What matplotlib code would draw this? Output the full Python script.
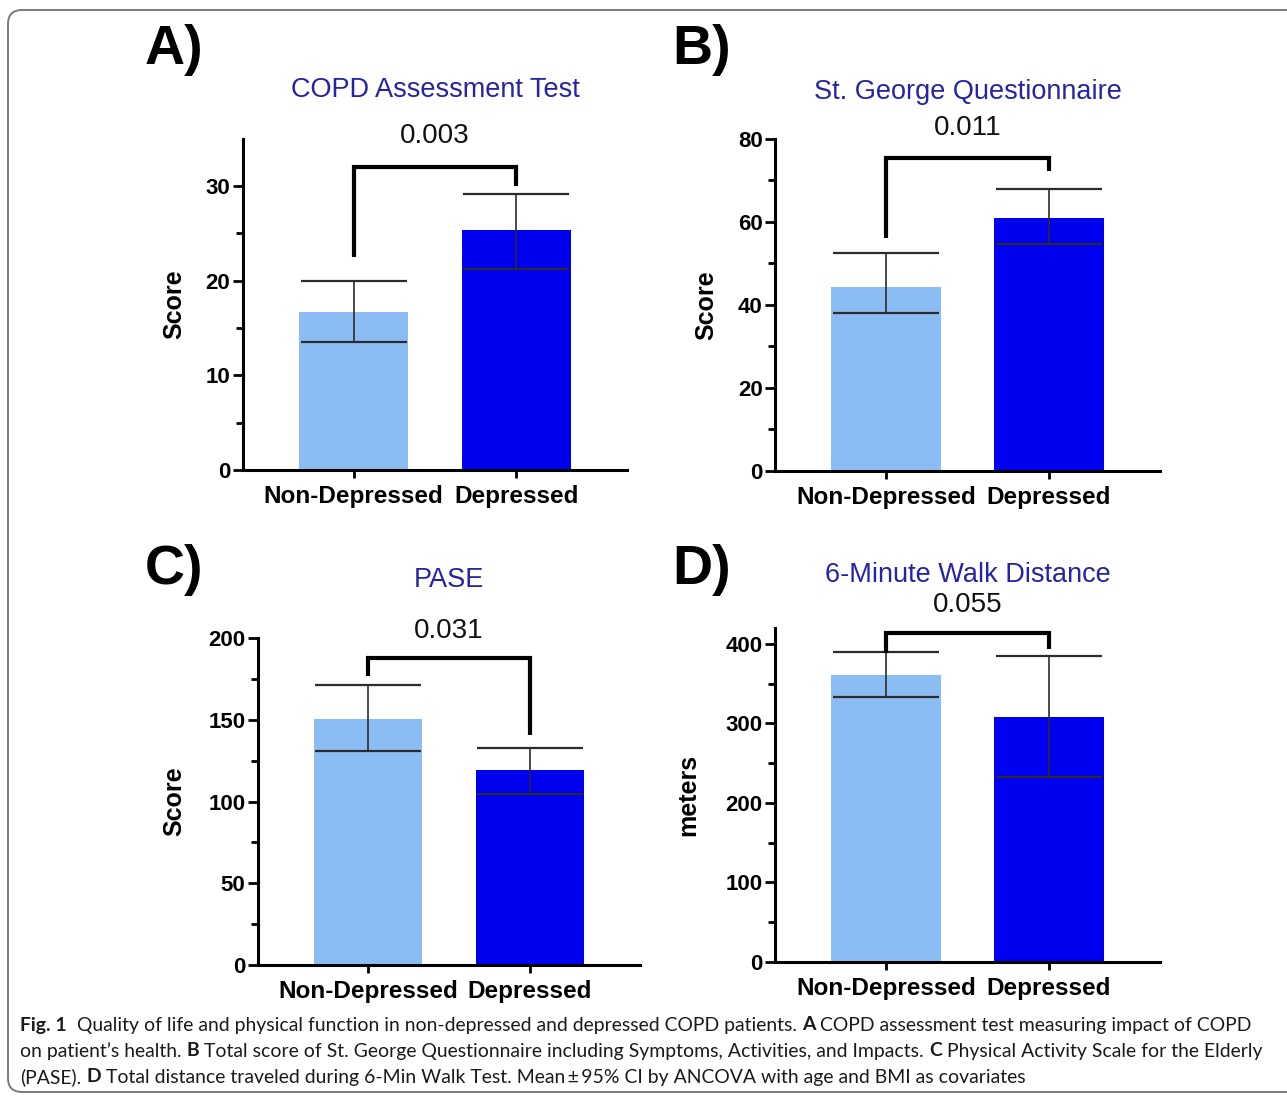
import matplotlib
matplotlib.use("Agg")
import numpy as np
import matplotlib.pyplot as plt
from matplotlib.patches import FancyBboxPatch

# ---------------- data ----------------
groups = ["Non-Depressed", "Depressed"]
titles = ["COPD Assessment Test", "St. George Questionnaire", "PASE", "6-Minute Walk Distance"]
panel_letters = ["A)", "B)", "C)", "D)"]
ylabels = ["Score", "Score", "Score", "meters"]
pvalues = ["0.003", "0.011", "0.031", "0.055"]

means_A = [16.7, 25.3]
ci_low_A = [13.5, 21.2]
ci_high_A = [20.0, 29.1]
bracket_A = [22.5, 32.0, 30.0]   # left leg end, bar level, right leg end

means_B = [44.4, 60.9]
ci_low_B = [38.0, 54.6]
ci_high_B = [52.5, 68.0]
bracket_B = [56.1, 75.5, 72.2]

means_C = [150.6, 119.0]
ci_low_C = [130.8, 104.4]
ci_high_C = [171.5, 132.9]
bracket_C = [177.0, 187.8, 140.5]

means_D = [360.3, 307.7]
ci_low_D = [332.8, 232.6]
ci_high_D = [389.6, 385.0]
bracket_D = [389.0, 413.5, 394.0]

y_max = [35, 80, 200, 420]
y_major = [10, 20, 50, 100]
pval_y = [35.3, 82.6, 204.5, 449]

caption_lines = [
    [("Fig. 1", True), ("  Quality of life and physical function in non-depressed and depressed COPD patients. ", False),
     ("A", True), (" COPD assessment test measuring impact of COPD", False)],
    [("on patient\u2019s health. ", False), ("B", True),
     (" Total score of St. George Questionnaire including Symptoms, Activities, and Impacts. ", False),
     ("C", True), (" Physical Activity Scale for the Elderly", False)],
    [("(PASE). ", False), ("D", True),
     (" Total distance traveled during 6-Min Walk Test. Mean\u2009\u00b1\u200995% CI by ANCOVA with age and BMI as covariates", False)],
]

# ---------------- style ----------------
W, H = 1287, 1096
plt.rcParams["font.family"] = ["Liberation Sans", "DejaVu Sans"]
light = "#8cbcf4"
dark = "#0000f0"
title_color = "#2424a4"

fig = plt.figure(figsize=(W / 100, H / 100), dpi=100)

positions = [
    [0.1888, 0.5712, 0.2984, 0.3023],
    [0.6022, 0.5703, 0.2991, 0.3029],
    [0.2005, 0.1195, 0.2968, 0.2984],
    [0.6022, 0.1223, 0.2991, 0.3047],
]
title_y = [1.147, 1.142, 1.177, 1.159]
ylabel_x = [-0.148, -0.148, -0.188, -0.195]
letter_pos = [(0.1127, 0.954), (0.522, 0.954), (0.1127, 0.480), (0.522, 0.480)]

data = [
    (means_A, ci_low_A, ci_high_A, bracket_A),
    (means_B, ci_low_B, ci_high_B, bracket_B),
    (means_C, ci_low_C, ci_high_C, bracket_C),
    (means_D, ci_low_D, ci_high_D, bracket_D),
]

x = np.arange(len(groups))
for i, (m, lo, hi, br) in enumerate(data):
    ax = fig.add_axes(positions[i])
    m = np.array(m); lo = np.array(lo); hi = np.array(hi)
    ax.bar(x, m, width=0.67, color=[light, dark], zorder=2)
    ax.errorbar(x, m, yerr=[m - lo, hi - m], fmt="none", ecolor="#2b2b2b",
                elinewidth=1.2, capsize=38, capthick=1.6, zorder=3)
    # significance bracket
    ax.plot([x[0], x[0], x[1], x[1]], [br[0], br[1], br[1], br[2]], color="black",
            lw=3.0, solid_joinstyle="miter", solid_capstyle="butt", clip_on=False, zorder=4)
    ax.text(0.5, pval_y[i], pvalues[i], ha="center", va="center", fontsize=20,
            color="#111111", clip_on=False)
    ax.text(0.5, title_y[i], titles[i], transform=ax.transAxes, ha="center", va="center",
            fontsize=19.5, color=title_color)

    ax.set_xlim(-0.68, 1.68)
    ax.set_ylim(0, y_max[i])
    ax.set_yticks(np.arange(0, y_max[i] + 0.1, y_major[i]))
    ax.set_yticks(np.arange(y_major[i] / 2, y_max[i], y_major[i]), minor=True)
    ax.set_xticks(x)
    ax.set_xticklabels(groups, fontsize=17.5, fontweight="bold")
    for lab in ax.get_yticklabels():
        lab.set_fontsize(16)
        lab.set_fontweight("bold")
    ax.set_ylabel(ylabels[i], fontsize=18, fontweight="bold")
    ax.yaxis.set_label_coords(ylabel_x[i], 0.5)

    for s in ["top", "right"]:
        ax.spines[s].set_visible(False)
    for s in ["left", "bottom"]:
        ax.spines[s].set_linewidth(2.2)
    ax.tick_params(axis="y", which="major", length=7, width=2.0, pad=2)
    ax.tick_params(axis="y", which="minor", length=5, width=2.0)
    ax.tick_params(axis="x", which="major", length=6, width=2.0, pad=5)

    fig.text(letter_pos[i][0], letter_pos[i][1], panel_letters[i], fontsize=40,
             fontweight="bold", ha="left", va="center")

# ---------------- frame ----------------
frame = FancyBboxPatch((8, 4), 1310, 1082, boxstyle="round,pad=0,rounding_size=14",
                       transform=None, facecolor="none", edgecolor="#7a7a7a", lw=1.4)
fig.add_artist(frame)

# ---------------- caption ----------------
renderer = fig.canvas.get_renderer()
cap_font = ["Lato", "Open Sans", "DejaVu Sans"]


def seg_width(s, bold, size):
    t = fig.text(0, 0, s, fontsize=size, fontweight="bold" if bold else "normal", family=cap_font)
    w = t.get_window_extent(renderer).width
    t.remove()
    return w


def space_w(bold, size):
    return seg_width("x x", bold, size) - seg_width("xx", bold, size)


def line_width(line, size):
    tot = 0
    for s, b in line:
        lead = len(s) - len(s.lstrip(" "))
        trail = len(s) - len(s.rstrip(" "))
        tot += (lead + trail) * space_w(b, size)
        if s.strip():
            tot += seg_width(s.strip(), b, size)
    return tot

base = 10
cap_size = base * 1230 / line_width(caption_lines[0], base)
line_y = [1025, 1051, 1077]
for ln, ypix in zip(caption_lines, line_y):
    xp = 20
    for s, b in ln:
        lead = len(s) - len(s.lstrip(" "))
        trail = len(s) - len(s.rstrip(" "))
        sw = space_w(b, cap_size)
        xp += lead * sw
        if s.strip():
            t = fig.text(xp / W, 1 - ypix / H, s.strip(), fontsize=cap_size,
                         fontweight="bold" if b else "normal", family=cap_font,
                         ha="left", va="center", color="#1a1a1a")
            xp += t.get_window_extent(renderer).width
        xp += trail * sw

fig.savefig("out.png", dpi=100)
